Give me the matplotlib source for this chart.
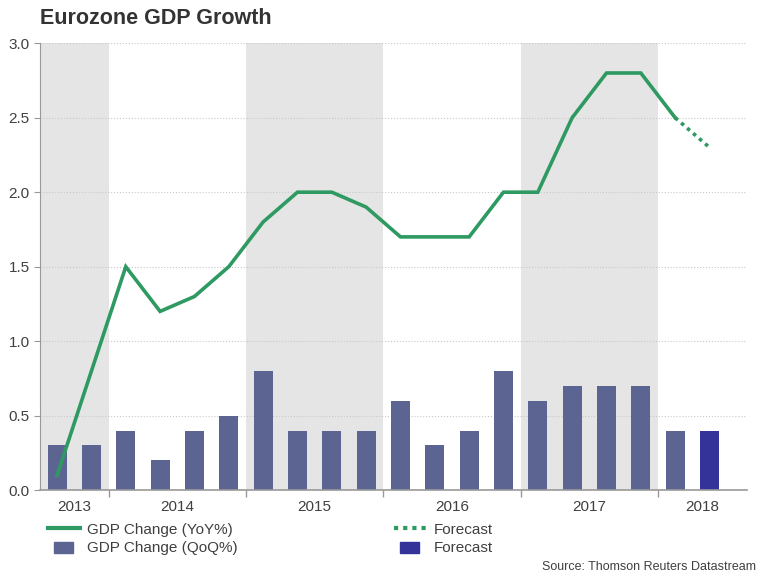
import matplotlib
matplotlib.use('Agg')
import matplotlib.pyplot as plt
from matplotlib.lines import Line2D
from matplotlib.patches import Patch, Rectangle
from matplotlib.legend_handler import HandlerPatch

plt.rcParams['font.family'] = ['Liberation Sans', 'DejaVu Sans']

# quarterly data, 2013 Q3 .. 2018 Q2
quarters = ['2013Q3', '2013Q4',
            '2014Q1', '2014Q2', '2014Q3', '2014Q4',
            '2015Q1', '2015Q2', '2015Q3', '2015Q4',
            '2016Q1', '2016Q2', '2016Q3', '2016Q4',
            '2017Q1', '2017Q2', '2017Q3', '2017Q4',
            '2018Q1', '2018Q2']
qoq = [0.3, 0.3, 0.4, 0.2, 0.4, 0.5, 0.8, 0.4, 0.4, 0.4,
       0.6, 0.3, 0.4, 0.8, 0.6, 0.7, 0.7, 0.7, 0.4, 0.4]
yoy = [0.1, 0.8, 1.5, 1.2, 1.3, 1.5, 1.8, 2.0, 2.0, 1.9,
       1.7, 1.7, 1.7, 2.0, 2.0, 2.5, 2.8, 2.8, 2.5, 2.3]
n_forecast = 1   # last quarter is a forecast

years = ['2013', '2014', '2015', '2016', '2017', '2018']
year_quarters = [2, 4, 4, 4, 4, 2]

green = '#2e9a62'
bar_col = '#5c6591'
fc_col = '#333399'
txt = '#404040'


def small_box(legend, orig_handle, xdescent, ydescent, width, height, fontsize):
    # narrower square-ish box like the original legend
    w = width * 0.6
    return Rectangle((xdescent + (width - w) / 2, ydescent - 0.1 * height), w, height * 1.05)


fig = plt.figure(figsize=(7.68, 5.76), dpi=100)
ax = fig.add_axes([0.052, 0.149, 0.921, 0.776])

x = list(range(len(quarters)))
n_act = len(quarters) - n_forecast

# shaded alternate years
start = -0.5
bounds = []
for k, nq in enumerate(year_quarters):
    end = start + nq
    if k % 2 == 0 and k < len(years) - 1:
        ax.axvspan(start, end, color='#e5e5e5', zorder=0, lw=0)
    bounds.append((start, end))
    start = end

ax.bar(x[:n_act], qoq[:n_act], width=0.55, color=bar_col, zorder=2)
ax.bar(x[n_act:], qoq[n_act:], width=0.55, color=fc_col, zorder=2)

ax.plot(x[:n_act], yoy[:n_act], color=green, lw=2.6, zorder=3,
        solid_joinstyle='miter')
ax.plot(x[n_act - 1:], yoy[n_act - 1:], color=green, lw=2.6, zorder=3,
        linestyle=(0, (1, 1.2)))

ax.set_xlim(-0.5, 20.1)
ax.set_ylim(0, 3.0)
ax.set_yticks([0, 0.5, 1.0, 1.5, 2.0, 2.5, 3.0])
ax.set_yticklabels(['{:.1f}'.format(v) for v in ax.get_yticks()])
ax.yaxis.grid(True, linestyle=':', color='#c8c8c8', lw=0.8)
ax.set_axisbelow(True)

# year ticks at boundaries, labels centered
ax.set_xticks([b[1] for b in bounds[:-1]])
ax.set_xticklabels([])
ax.tick_params(axis='x', length=5, color='#999999', width=1)
ax.tick_params(axis='y', length=4, color='#999999', labelcolor=txt, labelsize=11)
for k, y in enumerate(years):
    if k == len(years) - 1:
        cx = (bounds[k][0] + 20.1) / 2
    else:
        cx = (bounds[k][0] + bounds[k][1]) / 2
    ax.text(cx, -0.037, y, ha='center', va='center', fontsize=11, color=txt,
            transform=ax.get_xaxis_transform())

for s in ['top', 'right']:
    ax.spines[s].set_visible(False)
ax.spines['left'].set_color('#999999')
ax.spines['bottom'].set_color('#999999')
ax.spines['bottom'].set_linewidth(1.2)

fig.text(0.052, 0.968, 'Eurozone GDP Growth', fontsize=15.5, fontweight='bold',
         color='#333333', ha='left', va='center')

handles = [Line2D([0], [0], color=green, lw=3),
           Patch(color=bar_col),
           Line2D([0], [0], color=green, lw=3, linestyle=(0, (1, 1.2))),
           Patch(color=fc_col)]
labels = ['GDP Change (YoY%)', 'GDP Change (QoQ%)', 'Forecast', 'Forecast']
fig.legend(handles, labels, ncol=2, loc='upper left',
           bbox_to_anchor=(0.054, 0.103), frameon=False, fontsize=11,
           labelcolor=txt, columnspacing=10.2, handlelength=2.1,
           handletextpad=0.5, labelspacing=0.3, borderaxespad=0,
           handler_map={Patch: HandlerPatch(patch_func=small_box)})

fig.text(0.985, 0.016, 'Source: Thomson Reuters Datastream', fontsize=9,
         color=txt, ha='right', va='center')

fig.savefig('out.png', dpi=100)
